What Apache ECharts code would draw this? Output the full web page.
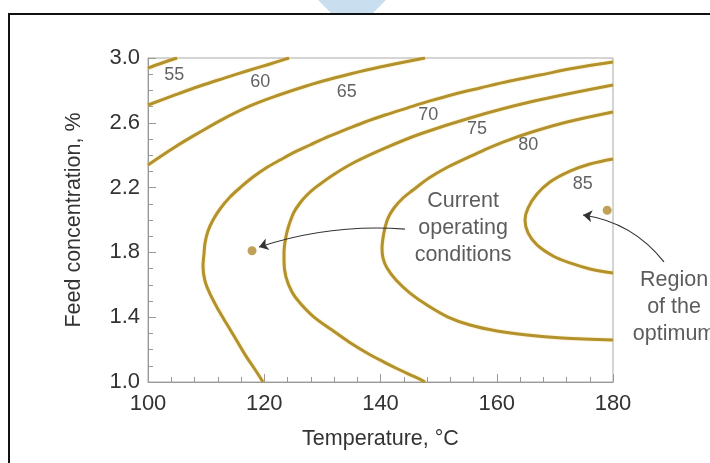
<!DOCTYPE html>
<html>
<head>
<meta charset="utf-8">
<script src="https://cdn.jsdelivr.net/npm/echarts@6/dist/echarts.min.js"></script>
<style>
html,body{margin:0;padding:0;background:#fff;}
#chart{width:710px;height:463px;}
</style>
</head>
<body>
<div id="chart"></div>
<script>
// Axis ticks
const xTicks = [100, 120, 140, 160, 180];
const yTicks = [1.0, 1.4, 1.8, 2.2, 2.6, 3.0];

// Contour levels (yield, %) and their traced curves [temperature, concentration]
const levels = [55, 60, 65, 70, 75, 80, 85];
const contour55 = [[100, 2.938], [102.41, 2.969], [104.99, 3.0]];
const contour60 = [[100, 2.710], [104.65, 2.772], [108.95, 2.827], [113.25, 2.877], [117.55, 2.926], [120.99, 2.963], [124.26, 3.0]];
const contour65 = [[100, 2.340], [104.65, 2.451], [108.95, 2.543], [112.90, 2.623], [117.55, 2.704], [121.51, 2.759], [126.15, 2.815], [130.11, 2.858], [134.75, 2.901], [139.91, 2.944], [147.66, 3.0]];
const contour70 = [[119.78, 1.0], [118.58, 1.068], [116.86, 1.160], [115.31, 1.253], [113.76, 1.346], [112.22, 1.438], [110.84, 1.531], [109.81, 1.623], [109.46, 1.716], [109.63, 1.790], [109.81, 1.858], [110.32, 1.932], [111.18, 2.0], [112.39, 2.068], [114.11, 2.142], [116.0, 2.204], [118.06, 2.265], [120.30, 2.321], [122.71, 2.370], [125.29, 2.420], [127.87, 2.463], [130.80, 2.512], [133.89, 2.556], [137.33, 2.605], [140.77, 2.648], [144.56, 2.691], [148.52, 2.735], [152.82, 2.778], [157.12, 2.815], [162.28, 2.858], [167.44, 2.895], [173.46, 2.938], [180, 2.975]];
const contour75 = [[147.66, 1.0], [145.94, 1.031], [143.35, 1.074], [140.60, 1.123], [137.68, 1.179], [134.58, 1.247], [131.66, 1.321], [128.56, 1.401], [126.15, 1.488], [124.77, 1.556], [123.74, 1.648], [123.40, 1.741], [123.40, 1.802], [123.57, 1.864], [123.91, 1.926], [124.43, 1.988], [125.12, 2.049], [126.15, 2.105], [127.35, 2.154], [128.73, 2.198], [131.83, 2.278], [135.61, 2.358], [140.77, 2.444], [146.80, 2.531], [155.40, 2.630], [165.72, 2.728], [180, 2.833]];
const contour80 = [[180, 1.259], [171.23, 1.272], [165.20, 1.290], [160.04, 1.315], [155.40, 1.352], [151.61, 1.401], [148.0, 1.475], [145.08, 1.549], [142.67, 1.630], [141.12, 1.704], [140.43, 1.765], [140.26, 1.827], [140.43, 1.889], [140.77, 1.951], [141.29, 2.012], [142.32, 2.074], [143.87, 2.136], [145.59, 2.185], [148.34, 2.259], [151.27, 2.321], [154.88, 2.383], [157.81, 2.432], [161.08, 2.481], [166.06, 2.543], [172.09, 2.605], [180, 2.667]];
const contour85 = [[180, 2.377], [176.04, 2.346], [172.60, 2.302], [169.16, 2.235], [166.92, 2.160], [165.38, 2.074], [164.86, 2.0], [165.38, 1.920], [166.92, 1.846], [169.68, 1.778], [172.60, 1.735], [176.04, 1.698], [180, 1.673]];
const contours = [contour55, contour60, contour65, contour70, contour75, contour80, contour85];

// Contour label anchor points [temperature, concentration]
const labelPoints = [[104.5, 2.895], [119.3, 2.85], [134.2, 2.79], [148.2, 2.65], [156.6, 2.56], [165.4, 2.46], [174.8, 2.22]];

// Marked points
const currentPoint = [117.9, 1.81];
const optimumPoint = [179, 2.06];

// Annotations
const annotationTexts = ['Current\noperating\nconditions', 'Region\nof the\noptimum'];
const annotationPoints = [[154.2, 1.951], [190.5, 1.463]];
const arrowCurrent = [[144.2, 1.944], [119.1, 1.833]];
const arrowOptimum = [[188.77, 1.741], [174.84, 2.031]];

const FONT = 'Liberation Sans';
const TEXT = '#333';
const GOLD = '#b3912c';

const chart = echarts.init(document.getElementById('chart'), null, {renderer: 'canvas'});

const series = contours.map((c, i) => ({
  name: 'Yield ' + levels[i],
  type: 'line',
  data: c,
  smooth: 0.35,
  showSymbol: false,
  symbol: 'none',
  lineStyle: {color: GOLD, width: 3, shadowColor: 'rgba(235,205,90,0.6)', shadowBlur: 2},
  silent: true,
  z: 3
}));

series.push({
  type: 'scatter',
  data: labelPoints.map((p, i) => [p[0], p[1], String(levels[i])]),
  symbolSize: 1,
  itemStyle: {color: 'rgba(0,0,0,0)'},
  label: {show: true, position: 'inside', formatter: p => p.data[2], color: '#3a3a3a', fontFamily: FONT, fontSize: 18},
  silent: true,
  z: 5
});

series.push({
  type: 'scatter',
  data: [currentPoint, optimumPoint],
  symbolSize: 9,
  itemStyle: {color: '#b08a30'},
  silent: true,
  z: 6
});

series.push({
  type: 'scatter',
  data: annotationPoints.map((p, i) => [p[0], p[1], annotationTexts[i]]),
  symbolSize: 1,
  clip: false,
  itemStyle: {color: 'rgba(0,0,0,0)'},
  label: {show: true, position: 'inside', formatter: p => p.data[2], color: TEXT, fontFamily: FONT, fontSize: 21.5, lineHeight: 27, align: 'center'},
  silent: true,
  z: 6
});

series.push({
  type: 'lines',
  coordinateSystem: 'cartesian2d',
  clip: false,
  data: [{coords: arrowCurrent, lineStyle: {curveness: -0.1}}, {coords: arrowOptimum, lineStyle: {curveness: -0.2}}],
  lineStyle: {color: '#333', width: 1.2, opacity: 1},
  symbol: ['none', 'arrow'],
  symbolSize: 9,
  silent: true,
  z: 7
});

chart.setOption({
  animation: false,
  backgroundColor: '#fff',
  grid: {left: 148, right: 97, top: 58, bottom: 81, show: true, borderColor: '#aaa', borderWidth: 1},
  xAxis: {
    type: 'value', min: xTicks[0], max: xTicks[xTicks.length - 1], interval: 20,
    name: 'Temperature, °C', nameLocation: 'middle', nameGap: 46,
    nameTextStyle: {color: TEXT, fontFamily: FONT, fontSize: 21.5},
    axisLine: {show: true, lineStyle: {color: '#999', width: 1}},
    axisTick: {show: true, inside: true, length: 8, lineStyle: {color: '#999'}},
    minorTick: {show: true, splitNumber: 5, length: 5, lineStyle: {color: '#999'}},
    splitLine: {show: false},
    axisLabel: {color: TEXT, fontFamily: FONT, fontSize: 22, margin: 11}
  },
  yAxis: {
    type: 'value', min: yTicks[0], max: yTicks[yTicks.length - 1], interval: 0.4,
    name: 'Feed concentration, %', nameLocation: 'middle', nameGap: 63,
    nameTextStyle: {color: TEXT, fontFamily: FONT, fontSize: 21.5},
    axisLine: {show: true, lineStyle: {color: '#999', width: 1}},
    axisTick: {show: true, inside: true, length: 8, lineStyle: {color: '#999'}},
    minorTick: {show: true, splitNumber: 4, length: 5, lineStyle: {color: '#999'}},
    splitLine: {show: false},
    axisLabel: {color: TEXT, fontFamily: FONT, fontSize: 22, margin: 8, formatter: v => v.toFixed(1)}
  },
  graphic: [
    {type: 'polygon', shape: {points: [[318, 0], [386, 0], [372, 14], [332, 14]]}, style: {fill: '#c9dff0'}, silent: true, z: 0},
    {type: 'rect', shape: {x: 9, y: 14, width: 800, height: 500}, style: {fill: 'none', stroke: '#111', lineWidth: 2}, silent: true, z: 0}
  ],
  series: series
});
</script>
</body>
</html>
